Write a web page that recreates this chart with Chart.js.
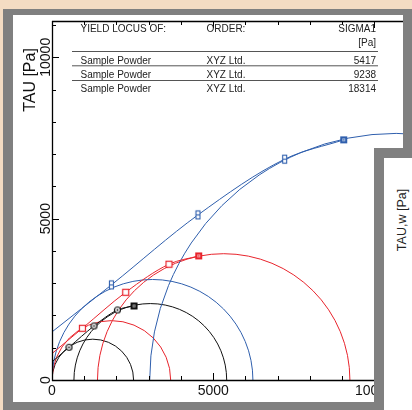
<!DOCTYPE html>
<html>
<head>
<meta charset="utf-8">
<script src="https://cdn.jsdelivr.net/npm/chart.js@4.4.1/dist/chart.umd.min.js"></script>
<style>
  html, body { margin: 0; padding: 0; }
  body {
    width: 412px; height: 410px; position: relative; overflow: hidden;
    background: #f4dcc3;
    font-family: "Liberation Sans", Arial, sans-serif;
  }
  .frame { position: absolute; background: #808080; }
  .paper { position: absolute; background: #ffffff; }
  #frame1 { left: 3px; top: 9px; width: 409px; height: 401px; }
  #paper1 { left: 13px; top: 15px; width: 390px; height: 387px; }
  #chart { position: absolute; left: 0; top: 0; }
  #frame2 { left: 374px; top: 148px; width: 38px; height: 262px; }
  #paper2 { left: 384px; top: 158px; width: 28px; height: 252px; }
  #tauw {
    position: absolute; left: 402px; top: 220px;
    transform: translate(-50%, -50%) rotate(-90deg);
    white-space: nowrap; font-size: 12.5px; color: #222;
  }
</style>
</head>
<body>
<div id="frame1" class="frame"></div>
<div id="paper1" class="paper"></div>
<canvas id="chart" width="412" height="410"></canvas>
<div id="frame2" class="frame"></div>
<div id="paper2" class="paper"></div>
<div id="tauw">TAU,w [Pa]</div>

<script>
// ---- yield locus data (stresses in Pa) ----
const samples = ['Sample Powder', 'Sample Powder', 'Sample Powder'];
const orders = ['XYZ Ltd.', 'XYZ Ltd.', 'XYZ Ltd.'];
const sigma1 = [5417, 9238, 18314];          // major consolidation stress
const sigma2 = [680, 1410, 3030];            // minor stress of the consolidation circle
const sigmaC = [2530, 3680, 6230];           // unconfined yield strength
const tauIntercept = [560, 820, 1490];       // yield locus at sigma = 0
const shearSigma = [[527, 1302, 2028], [943, 2285, 3628], [1842, 4527, 7215]];
const shearTau = [[1014, 1674, 2171], [1603, 2719, 3588], [2946, 5116, 6843]];
const preSigma = [2543, 4549, 9045];         // preshear points
const preTau = [2295, 3845, 7442];
const xTickLabels = [0, 5000, 10000];
const yTickLabels = [0, 5000, 10000];
const xMax = 10884;
const yMax = 11125;

const colors = ['#111111', '#e8242c', '#2f5fad'];
const minorStep = 1000, majorStep = 5000;
const FONT = '"Liberation Sans", Arial, sans-serif';

// ---- marker glyphs ----
function marker(kind, color) {
  const c = document.createElement('canvas');
  const g = c.getContext('2d');
  if (kind === 'ring') {
    c.width = 9; c.height = 9;
    g.strokeStyle = color; g.lineWidth = 1.2;
    g.beginPath(); g.arc(4.5, 4.5, 3, 0, Math.PI * 2);
    g.fillStyle = '#fff'; g.fill(); g.stroke();
    g.fillStyle = color; g.beginPath(); g.arc(4.5, 4.5, 1, 0, Math.PI * 2); g.fill();
  } else if (kind === 'square') {
    c.width = 9; c.height = 9;
    g.fillStyle = '#fff'; g.fillRect(1, 1, 7, 7);
    g.strokeStyle = color; g.lineWidth = 1.2; g.strokeRect(1.5, 1.5, 6, 6);
  } else if (kind === 'tall') {
    c.width = 7; c.height = 11;
    g.fillStyle = '#fff'; g.fillRect(1, 1, 5, 9);
    g.strokeStyle = color; g.lineWidth = 1.1;
    g.strokeRect(1.5, 1.5, 4, 8);
    g.beginPath(); g.moveTo(1.5, 5.5); g.lineTo(5.5, 5.5); g.stroke();
  } else {
    c.width = 9; c.height = 9;
    g.fillStyle = color; g.fillRect(1, 1, 7, 7);
    g.strokeStyle = 'rgba(255,255,255,0.55)'; g.lineWidth = 1;
    g.strokeRect(3.5, 3.5, 2, 2);
  }
  return c;
}
const openKinds = ['ring', 'square', 'tall'];

// ---- datasets ----
const datasets = [];
for (let i = 0; i < sigma1.length; i++) {
  const locus = [{ x: 0, y: tauIntercept[i] }];
  shearSigma[i].forEach((s, k) => locus.push({ x: s, y: shearTau[i][k] }));
  locus.push({ x: preSigma[i], y: preTau[i] });
  datasets.push({
    type: 'line', data: locus, borderColor: colors[i], borderWidth: 1,
    pointRadius: 0, fill: false, cubicInterpolationMode: 'monotone', order: 3
  });
  datasets.push({
    type: 'scatter',
    data: shearSigma[i].map((s, k) => ({ x: s, y: shearTau[i][k] })),
    pointStyle: marker(openKinds[i], colors[i]), showLine: false, order: 1
  });
  datasets.push({
    type: 'scatter', data: [{ x: preSigma[i], y: preTau[i] }],
    pointStyle: marker('filled', colors[i]), showLine: false, order: 0
  });
}

// Mohr circles (upper halves) drawn through the scales
const mohrCircles = {
  id: 'mohrCircles',
  beforeDatasetsDraw(chart) {
    const { ctx, chartArea: a, scales: { x, y } } = chart;
    ctx.save();
    ctx.beginPath(); ctx.rect(a.left, a.top, a.right - a.left, a.bottom - a.top); ctx.clip();
    ctx.lineWidth = 1;
    const half = (lo, hi, col) => {
      const cx = x.getPixelForValue((lo + hi) / 2);
      const rx = x.getPixelForValue(hi) - cx;
      const cy = y.getPixelForValue(0);
      const ry = cy - y.getPixelForValue((hi - lo) / 2);
      ctx.strokeStyle = col;
      ctx.beginPath(); ctx.ellipse(cx, cy, rx, ry, 0, Math.PI, 2 * Math.PI); ctx.stroke();
    };
    for (let i = 0; i < sigma1.length; i++) {
      half(sigma2[i], sigma1[i], colors[i]);
      half(0, sigmaC[i], colors[i]);
    }
    ctx.restore();
  }
};

// Frame, inward ticks, labels and the header table
const frameAxes = {
  id: 'frameAxes',
  afterDatasetsDraw(chart) {
    const { ctx, chartArea: a, scales: { x, y } } = chart;
    ctx.save();
    ctx.strokeStyle = '#000';
    ctx.lineWidth = 1.3;
    ctx.beginPath();
    ctx.moveTo(a.left + 0.5, a.top); ctx.lineTo(a.left + 0.5, a.bottom + 1);
    ctx.moveTo(a.left, a.bottom + 0.5); ctx.lineTo(a.right, a.bottom + 0.5);
    ctx.moveTo(a.left, a.top + 0.5); ctx.lineTo(a.right, a.top + 0.5);
    ctx.stroke();

    ctx.lineWidth = 1;
    ctx.beginPath();
    for (let v = 0; v <= x.max; v += minorStep) {
      const px = Math.round(x.getPixelForValue(v)) + 0.5;
      const len = v % majorStep === 0 ? 7 : 4;
      ctx.moveTo(px, a.bottom); ctx.lineTo(px, a.bottom - len);
      ctx.moveTo(px, a.top); ctx.lineTo(px, a.top + len);
    }
    for (let v = 0; v <= y.max; v += minorStep) {
      const py = Math.round(y.getPixelForValue(v)) + 0.5;
      const len = v % majorStep === 0 ? 7 : 4;
      ctx.moveTo(a.left, py); ctx.lineTo(a.left + len, py);
    }
    ctx.stroke();

    ctx.fillStyle = '#111';
    ctx.font = '14px ' + FONT;
    ctx.textAlign = 'center';
    ctx.textBaseline = 'alphabetic';
    xTickLabels.forEach(v => ctx.fillText(String(v), x.getPixelForValue(v), 395));
    yTickLabels.forEach(v => {
      ctx.save();
      ctx.translate(49.5, y.getPixelForValue(v));
      ctx.rotate(-Math.PI / 2);
      ctx.fillText(String(v), 0, 0);
      ctx.restore();
    });
    ctx.save();
    ctx.font = '16px ' + FONT;
    ctx.translate(35, 80);
    ctx.rotate(-Math.PI / 2);
    ctx.fillText('TAU [Pa]', 0, 0);
    ctx.restore();

    // header table
    ctx.font = '10px ' + FONT;
    ctx.fillStyle = '#222';
    ctx.textAlign = 'left';
    ctx.fillText('YIELD LOCUS OF:', 80.5, 31.7);
    ctx.fillText('ORDER:', 206.5, 31.7);
    ctx.textAlign = 'right';
    ctx.fillText('SIGMA1', 376, 31.7);
    ctx.fillText('[Pa]', 376, 46);
    const rowBase = [63.5, 77.8, 92.2];
    const ruleY = [51.5, 65.8, 80.5];
    ctx.strokeStyle = '#555';
    ctx.lineWidth = 1;
    ctx.beginPath();
    ruleY.forEach(r => { ctx.moveTo(72, r); ctx.lineTo(378, r); });
    ctx.stroke();
    samples.forEach((s, i) => {
      ctx.textAlign = 'left';
      ctx.fillText(s, 80.5, rowBase[i]);
      ctx.fillText(orders[i], 206.5, rowBase[i]);
      ctx.textAlign = 'right';
      ctx.fillText(String(sigma1[i]), 376, rowBase[i]);
    });
    ctx.restore();
  }
};

new Chart(document.getElementById('chart'), {
  data: { datasets },
  options: {
    responsive: false,
    animation: false,
    devicePixelRatio: 1,
    layout: { padding: { left: 52, top: 21, right: 9, bottom: 30 } },
    plugins: { legend: { display: false }, tooltip: { enabled: false } },
    scales: {
      x: { type: 'linear', min: 0, max: xMax, display: false },
      y: { type: 'linear', min: 0, max: yMax, display: false }
    }
  },
  plugins: [mohrCircles, frameAxes]
});
</script>
</body>
</html>
